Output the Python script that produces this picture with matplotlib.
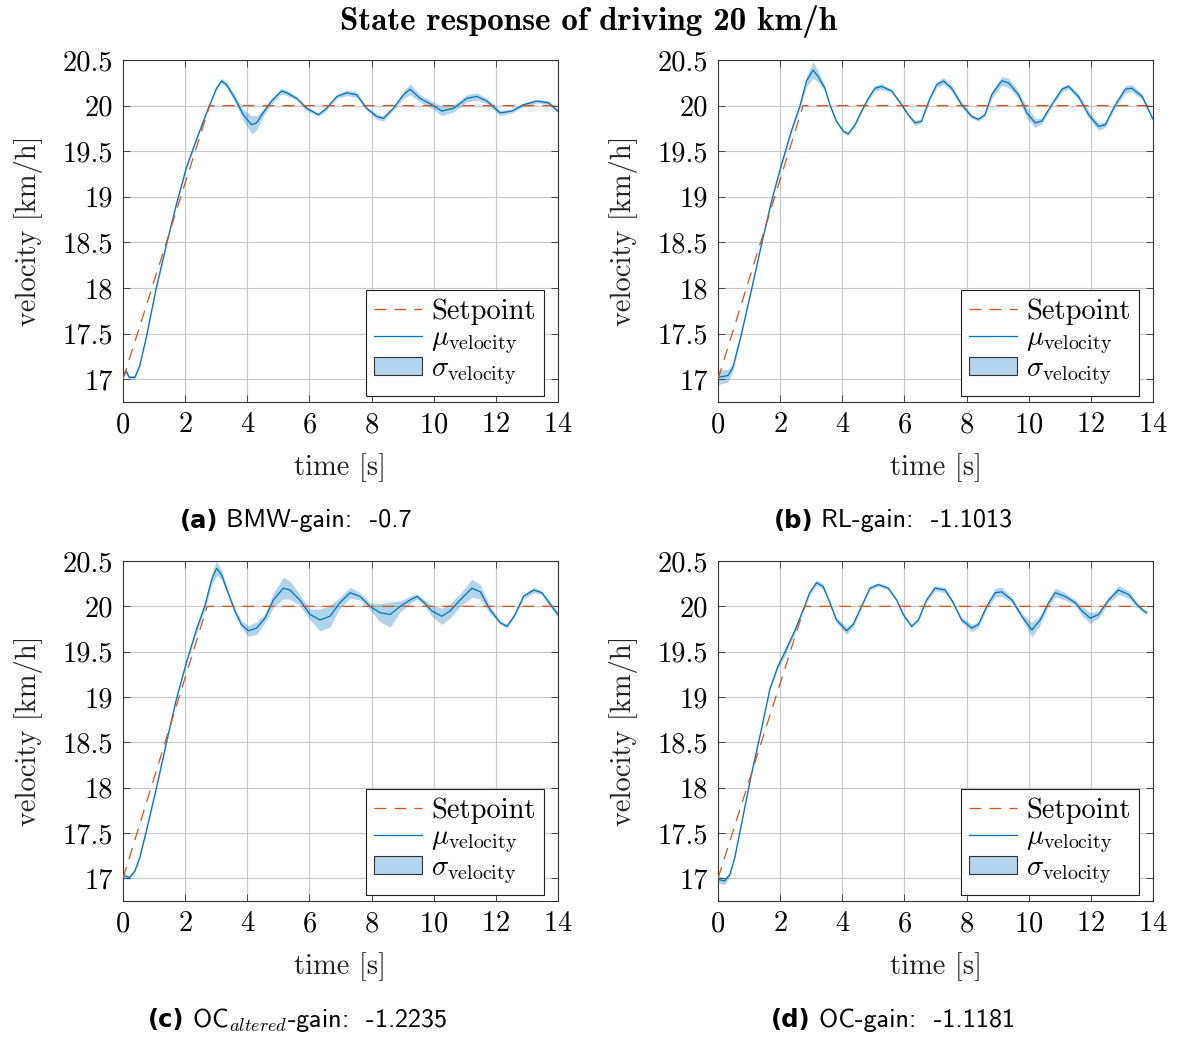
import matplotlib
matplotlib.use("Agg")
import matplotlib.pyplot as plt
from matplotlib.patches import Patch
from matplotlib.lines import Line2D

plt.rcParams['font.family'] = 'cmr10'
plt.rcParams['mathtext.fontset'] = 'cm'
plt.rcParams['axes.formatter.use_mathtext'] = True

# ---------------- data ----------------
a_t = [0, 0.1, 0.2, 0.38, 0.54, 0.75, 1.07, 1.40, 1.72, 2.04, 2.42, 2.79, 3.01, 3.17, 3.33,
       3.60, 3.87, 4.14, 4.30, 4.51, 4.78, 5.10, 5.27, 5.59, 5.91, 6.29, 6.55, 6.88, 7.20, 7.52,
       7.84, 8.17, 8.38, 8.70, 9.03, 9.24, 9.56, 9.94, 10.26, 10.64, 11.07, 11.39, 11.71, 12.14, 12.52,
       12.89, 13.32, 13.70, 14.0]
a_v = [17.04, 17.09, 17.02, 17.02, 17.15, 17.46, 18.00, 18.48, 18.92, 19.32, 19.68, 20.01, 20.19, 20.27, 20.23,
       20.08, 19.90, 19.79, 19.81, 19.92, 20.05, 20.16, 20.14, 20.08, 19.97, 19.90, 19.97, 20.10, 20.14, 20.12,
       19.97, 19.88, 19.86, 19.97, 20.12, 20.18, 20.08, 20.01, 19.94, 19.97, 20.08, 20.10, 20.05, 19.92, 19.94,
       20.01, 20.05, 20.03, 19.94]
a_s = [0.02, 0.03, 0.02, 0.02, 0.02, 0.02, 0.02, 0.02, 0.02, 0.02, 0.02, 0.02, 0.02, 0.03, 0.03,
       0.04, 0.06, 0.10, 0.08, 0.04, 0.03, 0.03, 0.03, 0.02, 0.02, 0.02, 0.02, 0.02, 0.03, 0.03,
       0.02, 0.03, 0.03, 0.02, 0.04, 0.06, 0.04, 0.04, 0.05, 0.04, 0.04, 0.04, 0.03, 0.03, 0.02,
       0.02, 0.02, 0.02, 0.02]

b_t = [0, 0.32, 0.48, 0.75, 1.07, 1.40, 1.72, 2.04, 2.36, 2.63, 2.85, 3.06, 3.22, 3.44, 3.60,
       3.81, 4.03, 4.19, 4.41, 4.62, 4.84, 5.05, 5.27, 5.59, 5.91, 6.12, 6.34, 6.55, 6.82, 7.04,
       7.26, 7.52, 7.84, 8.17, 8.38, 8.59, 8.81, 9.13, 9.35, 9.67, 9.94, 10.21, 10.42, 10.74, 11.07,
       11.28, 11.60, 11.93, 12.25, 12.46, 12.79, 13.11, 13.32, 13.65, 14.0]
b_v = [17.02, 17.04, 17.13, 17.49, 17.97, 18.48, 18.95, 19.35, 19.72, 19.99, 20.27, 20.39, 20.32, 20.19, 20.01,
       19.83, 19.72, 19.69, 19.79, 19.94, 20.08, 20.19, 20.21, 20.16, 20.01, 19.90, 19.81, 19.83, 20.08, 20.23,
       20.27, 20.19, 20.01, 19.88, 19.85, 19.90, 20.12, 20.27, 20.25, 20.12, 19.92, 19.81, 19.83, 20.01, 20.18,
       20.21, 20.10, 19.90, 19.77, 19.79, 20.01, 20.18, 20.19, 20.10, 19.85]
b_s = [0.08, 0.07, 0.04, 0.02, 0.02, 0.02, 0.02, 0.02, 0.03, 0.03, 0.06, 0.09, 0.06, 0.03, 0.02,
       0.02, 0.02, 0.02, 0.02, 0.02, 0.02, 0.03, 0.03, 0.02, 0.02, 0.02, 0.03, 0.02, 0.02, 0.03,
       0.04, 0.03, 0.03, 0.02, 0.02, 0.02, 0.04, 0.05, 0.05, 0.04, 0.06, 0.05, 0.03, 0.02, 0.03,
       0.03, 0.03, 0.04, 0.04, 0.03, 0.03, 0.04, 0.04, 0.03, 0.02]

c_t = [0, 0.21, 0.38, 0.54, 0.75, 1.07, 1.40, 1.72, 2.04, 2.36, 2.63, 2.85, 3.01, 3.17, 3.38,
       3.60, 3.81, 4.03, 4.30, 4.57, 4.84, 5.16, 5.37, 5.69, 6.02, 6.34, 6.66, 6.98, 7.31, 7.63,
       7.95, 8.27, 8.60, 8.92, 9.24, 9.46, 9.67, 9.94, 10.26, 10.53, 10.85, 11.23, 11.50, 11.82, 12.14,
       12.36, 12.62, 12.89, 13.22, 13.48, 13.80, 14.0]
c_v = [17.03, 17.01, 17.08, 17.23, 17.52, 17.99, 18.50, 18.98, 19.38, 19.74, 20.00, 20.29, 20.42, 20.35, 20.15,
       19.95, 19.80, 19.73, 19.76, 19.87, 20.07, 20.20, 20.18, 20.07, 19.91, 19.85, 19.89, 20.04, 20.15, 20.11,
       20.00, 19.93, 19.91, 20.00, 20.07, 20.11, 20.05, 19.95, 19.89, 19.95, 20.07, 20.20, 20.16, 19.96, 19.82,
       19.78, 19.91, 20.11, 20.18, 20.15, 20.00, 19.91]
c_s = [0.03, 0.02, 0.02, 0.02, 0.02, 0.02, 0.02, 0.02, 0.02, 0.04, 0.04, 0.06, 0.08, 0.05, 0.03,
       0.03, 0.04, 0.06, 0.07, 0.05, 0.08, 0.12, 0.10, 0.06, 0.06, 0.12, 0.12, 0.06, 0.06, 0.04,
       0.04, 0.10, 0.14, 0.06, 0.04, 0.03, 0.03, 0.06, 0.09, 0.08, 0.07, 0.10, 0.08, 0.04, 0.02,
       0.02, 0.02, 0.03, 0.03, 0.02, 0.03, 0.03]

d_t = [0, 0.21, 0.38, 0.54, 0.75, 1.07, 1.40, 1.67, 1.93, 2.15, 2.47, 2.74, 2.95, 3.17, 3.38,
       3.60, 3.81, 4.14, 4.35, 4.62, 4.89, 5.16, 5.48, 5.75, 5.96, 6.23, 6.45, 6.71, 6.98, 7.31,
       7.57, 7.84, 8.17, 8.38, 8.65, 8.92, 9.13, 9.46, 9.78, 10.10, 10.37, 10.64, 10.85, 11.17, 11.50,
       11.71, 11.98, 12.25, 12.57, 12.89, 13.22, 13.48, 13.70, 13.80]
d_v = [16.99, 16.97, 17.04, 17.23, 17.59, 18.14, 18.65, 19.09, 19.34, 19.49, 19.73, 19.96, 20.15, 20.26, 20.22,
       20.04, 19.85, 19.73, 19.80, 20.00, 20.20, 20.24, 20.20, 20.07, 19.91, 19.78, 19.85, 20.07, 20.20, 20.18,
       20.04, 19.85, 19.76, 19.80, 20.00, 20.15, 20.16, 20.07, 19.89, 19.74, 19.85, 20.04, 20.15, 20.11, 20.04,
       19.95, 19.87, 19.91, 20.07, 20.18, 20.13, 20.02, 19.95, 19.93]
d_s = [0.04, 0.04, 0.02, 0.02, 0.02, 0.02, 0.02, 0.02, 0.03, 0.04, 0.03, 0.02, 0.03, 0.03, 0.03,
       0.02, 0.03, 0.04, 0.03, 0.02, 0.02, 0.02, 0.02, 0.02, 0.02, 0.02, 0.02, 0.02, 0.03, 0.03,
       0.02, 0.03, 0.04, 0.03, 0.03, 0.05, 0.05, 0.03, 0.03, 0.08, 0.05, 0.03, 0.05, 0.04, 0.03,
       0.05, 0.06, 0.04, 0.03, 0.05, 0.04, 0.03, 0.02, 0.02]

# setpoint: start, end of ramp, end of run (per panel)
sp_t = [[0, 2.79, 14.0], [0, 2.74, 13.9], [0, 2.71, 14.0], [0, 2.79, 13.75]]
sp_v = [17.0, 20.0, 20.0]

caption_tags = ["(a)", "(b)", "(c)", "(d)"]
caption_texts = ["BMW-gain:  -0.7", "RL-gain:  -1.1013",
                 "OC$_{altered}$-gain:  -1.2235", "OC-gain:  -1.1181"]

x_ticks = [0, 2, 4, 6, 8, 10, 12, 14]
y_ticks = [17, 17.5, 18, 18.5, 19, 19.5, 20, 20.5]
y_ticklabels = ["17", "17.5", "18", "18.5", "19", "19.5", "20", "20.5"]

series = [(a_t, a_v, a_s), (b_t, b_v, b_s), (c_t, c_v, c_s), (d_t, d_v, d_s)]

# ---------------- figure ----------------
W, H = 1178, 1037
fig = plt.figure(figsize=(W / 100, H / 100), dpi=100)

BLUE = '#0072BD'
RED = '#D95319'
FS = 20.5
CFS = 18.8

boxes = [(123, 60, 558, 402), (718, 60, 1153, 402), (123, 561, 558, 901), (718, 561, 1153, 901)]
cap_y = [521, 521, 1020, 1020]
cap_cx = [296, 893, 298, 893]

renderer = fig.canvas.get_renderer()

for i, (box, (t, v, s)) in enumerate(zip(boxes, series)):
    l, tp, r, bt = box
    ax = fig.add_axes([l / W, 1 - bt / H, (r - l) / W, (bt - tp) / H])
    lo = [vi - si for vi, si in zip(v, s)]
    hi = [vi + si for vi, si in zip(v, s)]
    ax.fill_between(t, lo, hi, color=BLUE, alpha=0.3, lw=0, zorder=2)
    ax.plot(t, v, color=BLUE, lw=0.9, zorder=3)
    ax.plot(sp_t[i], sp_v, color=RED, lw=0.9, dashes=(9.5, 6.5), zorder=4)

    ax.set_xlim(0, 14)
    ax.set_ylim(16.75, 20.5)
    ax.set_xticks(x_ticks)
    ax.set_yticks(y_ticks)
    ax.set_yticklabels(y_ticklabels)
    ax.grid(True, color='#c8c8c8', lw=0.8, zorder=0)
    ax.set_axisbelow(True)
    ax.tick_params(direction='in', top=True, right=True, length=5, width=0.7,
                   color='#444444', labelsize=FS, pad=7)
    for sp in ax.spines.values():
        sp.set_linewidth(0.8)
        sp.set_color('#333333')
    ax.set_xlabel('time [s]', fontsize=FS, labelpad=11, color='#222222')
    ax.set_ylabel('velocity [km/h]', fontsize=FS, labelpad=14, color='#222222')

    handles = [Line2D([], [], color=RED, lw=0.9, dashes=(9.5, 6.5)),
               Line2D([], [], color=BLUE, lw=0.9),
               Patch(facecolor='#B3D4EC', edgecolor='#333333', lw=0.8)]
    labels = ['Setpoint', r'$\mu_{\mathrm{velocity}}$', r'$\sigma_{\mathrm{velocity}}$']
    leg = ax.legend(handles, labels, loc='lower right', bbox_to_anchor=(0.968, 0.018),
                    fontsize=FS, frameon=True, fancybox=False, framealpha=1,
                    edgecolor='#222222', handlelength=1.7, handleheight=0.6,
                    handletextpad=0.3, labelspacing=0.0, borderpad=0.3,
                    borderaxespad=0.0)
    leg.get_frame().set_linewidth(0.8)

    t1 = fig.text(0, H - cap_y[i], caption_tags[i], ha='left', va='center',
                  fontsize=CFS * 0.93, fontweight='bold', family='DejaVu Sans', transform=None)
    t2 = fig.text(0, H - cap_y[i], caption_texts[i], ha='left', va='center',
                  fontsize=CFS, family='cmss10', transform=None)
    w1 = t1.get_window_extent(renderer).width
    w2 = t2.get_window_extent(renderer).width
    gap = 8
    x0 = cap_cx[i] - (w1 + gap + w2) / 2
    t1.set_x(x0)
    t2.set_x(x0 + w1 + gap)

fig.text(0.5, 1 - 22 / H, 'State response of driving 20 km/h', ha='center', va='center',
         fontsize=23.8, family='cmb10')

fig.savefig('out.png', dpi=100)
